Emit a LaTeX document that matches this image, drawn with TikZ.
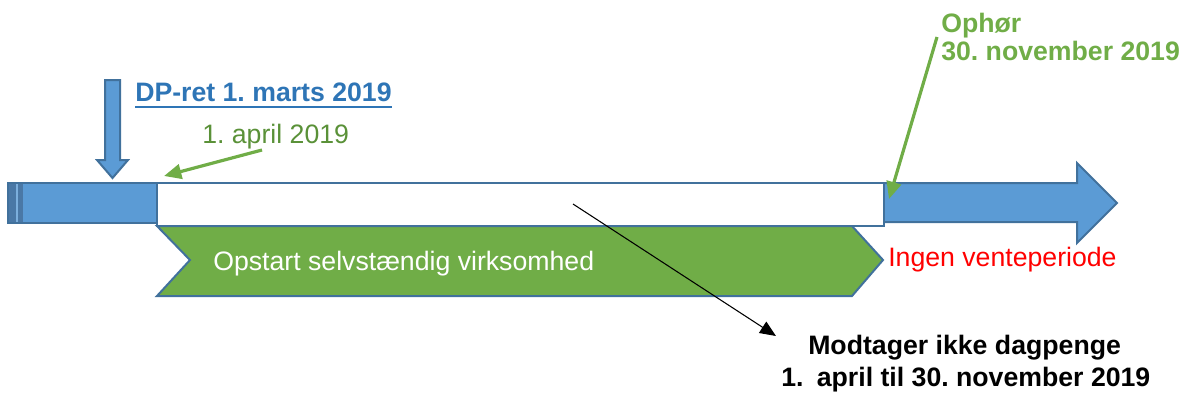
\documentclass[tikz,border=0pt]{standalone}
\usepackage{fontspec}
\setmainfont{Liberation Sans}
\usetikzlibrary{arrows.meta}
\definecolor{bfill}{HTML}{5B9BD5}
\definecolor{bdraw}{HTML}{41719C}
\definecolor{bdark}{HTML}{4A78A6}
\definecolor{gfill}{HTML}{70AD47}
\definecolor{gtext}{HTML}{5A9138}
\definecolor{btext}{HTML}{2E75B6}
\frenchspacing
\begin{document}
\begin{tikzpicture}[x=0.75pt,y=-0.75pt,
  shapeline/.style={draw=bdraw,line width=1.5pt,line join=miter},
  txt/.style={inner sep=0pt,anchor=base west,font=\fontsize{20}{24}\selectfont},
  btxt/.style={txt,font=\fontsize{20}{24}\selectfont\bfseries},
  garrow/.style={draw=gfill,line width=2.4pt,-{Triangle[length=13pt,width=11pt]}},
  karrow/.style={draw=black,line width=0.8pt,-{Triangle[length=12pt,width=10pt]}}]
\useasboundingbox (0,0) rectangle (1182,394);
% left blue bar
\path[shapeline,fill=bfill] (8,183) rectangle (160,223);
\path[fill=bdark] (9,184) rectangle (23,222);
\draw[bfill!80!white,line width=1.2pt] (17,184) -- (17,222);
% right blue arrow
\path[shapeline,fill=bfill] (880,183) -- (1077,183) -- (1077,163) -- (1117,203)
  -- (1077,243) -- (1077,222) -- (880,222) -- cycle;
% white box
\path[shapeline,fill=white] (157,183) rectangle (884,226);
% green chevron
\path[shapeline,fill=gfill] (157,226) -- (852,226) -- (883,260) -- (852,296)
  -- (157,296) -- (190,260) -- cycle;
% down arrow
\path[shapeline,fill=bfill] (105,80) -- (120,80) -- (120,160) -- (128,160)
  -- (112.5,178) -- (97,160) -- (105,160) -- cycle;
% texts
\node[btxt,text=btext] (dp) at (135,101) {DP-ret 1. marts 2019};
\draw[btext,line width=1.6pt] ([yshift=-4.3pt]dp.base west) -- ([yshift=-4.3pt]dp.base east);
\node[txt,text=gtext] (apr) at (202,143) {1. april 2019};
\node[btxt,text=gfill] (oph) at (941,32) {Ophør};
\node[btxt,text=gfill] (nov) at (941,60) {30. november 2019};
\node[txt,text=white] (ops) at (213,270) {Opstart selvstændig virksomhed};
\node[txt,text=red] (ing) at (888,266) {Ingen venteperiode};
\node[btxt] (mod) at (808,354) {Modtager ikke dagpenge};
\node[btxt] (per) at (781,386) {1.\hspace{0.5em}april til 30. november 2019};
% connectors
\coordinate (a1s) at (262,150);
\coordinate (a1e) at (164,176);
\draw[garrow] (a1s) -- (a1e);
\coordinate (a2s) at (937,37);
\coordinate (a2e) at (889,199);
\draw[garrow] (a2s) -- (a2e);
\coordinate (ks) at (573,204);
\coordinate (ke) at (776,336);
\draw[karrow] (ks) -- (ke);
\end{tikzpicture}
\end{document}
